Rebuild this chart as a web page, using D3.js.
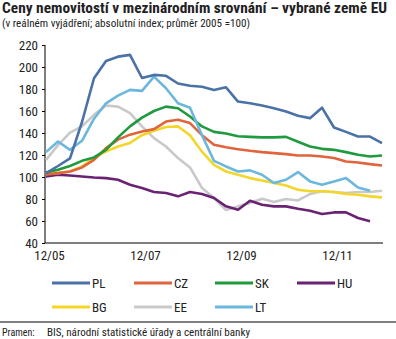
<!DOCTYPE html>
<html><head><meta charset="utf-8">
<script src="https://cdn.jsdelivr.net/npm/d3@7"></script>
<style>body{margin:0;background:#fff}svg{display:block}text{font-family:"Liberation Sans Narrow","Roboto Condensed","Open Sans",sans-serif}</style>
</head><body><svg id="c" width="396" height="339"></svg>
<script>
// quarterly, 12/2005 .. 12/2012
const quarters = ["12/05","03/06","06/06","09/06","12/06","03/07","06/07","09/07","12/07","03/08","06/08","09/08","12/08","03/09","06/09","09/09","12/09","03/10","06/10","09/10","12/10","03/11","06/11","09/11","12/11","03/12","06/12","09/12","12/12"];
const xTickLabels = ["12/05","12/07","12/09","12/11"];
const yTicks = [40,60,80,100,120,140,160,180,200,220];
const PL = [103.5,110,117,150,189.8,205.5,209.4,211,190,192.8,192,185,183,182,179,181.5,168.6,167,165,162.5,159.5,155.6,153.5,163,145,141,136.8,136.8,130.8];
const CZ = [102,103.5,105,108.7,115.6,126.2,134,138.5,141.4,143.5,150.4,152,149,138,129.3,127,125.3,123.8,122.6,121.7,120.8,119.6,119.6,118.7,117.2,114.1,113.2,111.7,110.5];
const SK = [104,106.6,110,114.7,117.8,124.7,136,146,154,160,164,162.5,155,146,141,139.5,137,136.5,136,136,136.5,132,127.7,125.6,124.7,122.6,120.2,118.7,119.6];
const HU = [100.5,102,101.4,100.5,99.6,99,97.5,93,90,86.3,85.4,82.4,86.3,84.5,80.9,73.3,70.3,78.4,74.8,73.3,73.3,71.2,69.4,66.3,67.8,67.8,62.7,59.7,null];
const BG = [103.5,103.5,105,109.6,117.2,123.2,127.7,131,138,142,145.5,146,138,123,111,105,102,99,96.9,94.5,92.3,88.4,87,87,86.3,84.5,83.9,82.4,81.5];
const EE = [115.6,129,140.4,146,156.5,165,164,158,146,135.3,127.7,117.2,108.7,90,80.9,70,73.3,76.3,80.3,77.2,80,78.7,84.5,87,86.3,85.4,86.3,86.3,87.5];
const LT = [122.6,132.3,124.7,132.9,153,167,174,179.2,178.3,191.3,180.7,167,163,138,114.7,109.6,105,106,102,94.5,97.5,104.5,96,93,96,99,90.5,87.5,null];
const seriesNames = ["PL","CZ","SK","HU","BG","EE","LT"];
const seriesData = [PL,CZ,SK,HU,BG,EE,LT];
const colors = ["#4a72a6","#e0643c","#1f9a3e","#6a2373","#f4d62a","#c9c9c9","#6cb7dd"];

const svg = d3.select("#c");
const x = d3.scaleLinear().domain([0, quarters.length-1]).range([46, 382]);
const y = d3.scaleLinear().domain([40,220]).range([243,45]);

// title
svg.append("text").attr("x",2).attr("y",13).attr("font-weight","bold").attr("font-size",14)
  .attr("fill","#222").attr("textLength",385).attr("lengthAdjust","spacingAndGlyphs")
  .text("Ceny nemovitostí v mezinárodním srovnání – vybrané země EU");
svg.append("text").attr("x",2).attr("y",27).attr("font-size",10.5).attr("fill","#222")
  .attr("textLength",248).attr("lengthAdjust","spacingAndGlyphs")
  .text("(v reálném vyjádření; absolutní index; průměr 2005 =100)");

// y axis
const yAxis = d3.axisLeft(y).tickValues(yTicks).tickSize(3).tickPadding(4);
const gy = svg.append("g").attr("transform","translate(45,0)").call(yAxis);
gy.select(".domain").attr("stroke","#000").attr("d","M0,45V243");
gy.selectAll("text").attr("font-size",13).attr("fill","#222");

// x axis
const xAxis = d3.axisBottom(x).tickValues(xTickLabels.map(l=>quarters.indexOf(l))).tickFormat(i=>quarters[i]).tickSize(0).tickPadding(8);
const gx = svg.append("g").attr("transform","translate(0,243)").call(xAxis);
gx.select(".domain").attr("stroke","#000").attr("d","M45,0H383");
gx.selectAll("text").attr("font-size",13).attr("fill","#222").attr("dx",3);

// lines
const line = d3.line().defined(d=>d!=null).x((d,i)=>x(i)).y(d=>y(d));
const order = [5,3,4,1,2,6,0];
order.forEach(k=>{
  svg.append("path").attr("d",line(seriesData[k])).attr("fill","none")
    .attr("stroke",colors[k]).attr("stroke-width",2.6).attr("stroke-linejoin","round");
});

// legend
const legX = [52,134,215,297];
seriesNames.forEach((n,k)=>{
  const col = k%4, row = Math.floor(k/4);
  const lx = legX[col], ly = 283 + row*24;
  svg.append("line").attr("x1",lx).attr("x2",lx+38).attr("y1",ly).attr("y2",ly)
    .attr("stroke",colors[k]).attr("stroke-width",3);
  svg.append("text").attr("x",lx+40).attr("y",ly+5).attr("font-size",13).attr("fill","#222").text(n);
});

// separator and source
svg.append("line").attr("x1",0).attr("x2",396).attr("y1",322).attr("y2",322).attr("stroke","#000").attr("stroke-width",1);
svg.append("text").attr("x",2).attr("y",336).attr("font-size",10).attr("fill","#222").text("Pramen:");
svg.append("text").attr("x",47).attr("y",336).attr("font-size",10).attr("fill","#222")
  .attr("textLength",203).attr("lengthAdjust","spacingAndGlyphs")
  .text("BIS, národní statistické úřady a centrální banky");
</script></body></html>
